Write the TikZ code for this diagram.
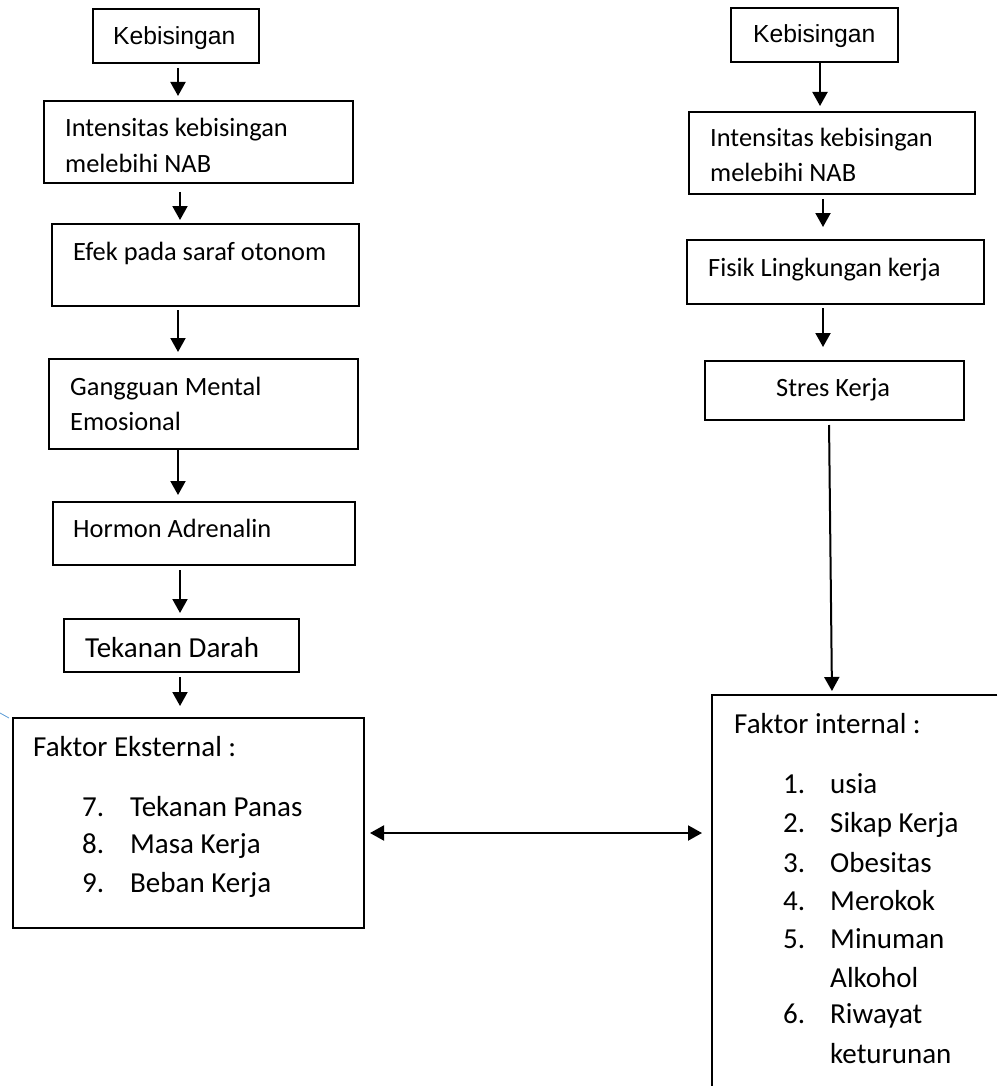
\documentclass[tikz,border=0pt]{standalone}
\usepackage{fontspec}
\setmainfont{Carlito}
\newfontfamily\arialf{Liberation Sans}
\usetikzlibrary{arrows.meta}
\definecolor{lineblue}{RGB}{91,155,213}
\begin{document}
\begin{tikzpicture}[x=1pt,y=-1pt,
  boxst/.style={draw=black,line width=2pt,inner sep=0pt,anchor=north west},
  arr/.style={line width=2pt,-{Triangle[width=15pt,length=14pt]}},
  darr/.style={line width=2pt,{Triangle[width=15pt,length=14pt]}-{Triangle[width=15pt,length=14pt]}},
  txt/.style={anchor=base west,inner sep=0pt,font=\fontsize{26.4}{35}\selectfont},
  btxt/.style={anchor=base west,inner sep=0pt,font=\fontsize{29}{38}\selectfont},
  ktxt/.style={anchor=base west,inner sep=0pt,font=\arialf\fontsize{24.7}{30}\selectfont}]
\useasboundingbox (0,0) rectangle (997,1086);

% ---------- left column boxes ----------
\node[boxst,minimum width=166pt,minimum height=54pt] (kL) at (92,8) {};
\node[boxst,minimum width=309pt,minimum height=82pt] (iL) at (43,100) {};
\node[boxst,minimum width=307pt,minimum height=82pt] (eL) at (51,223) {};
\node[boxst,minimum width=309pt,minimum height=90pt] (gL) at (48,358) {};
\node[boxst,minimum width=302pt,minimum height=63pt] (hL) at (52,501) {};
\node[boxst,minimum width=235pt,minimum height=53pt] (tL) at (63,618) {};
\node[boxst,minimum width=351pt,minimum height=210pt] (fE) at (12,717) {};

% ---------- left column texts ----------
\node[ktxt] (tkL) at (113,45) {Kebisingan};
\node[txt] (ti1) at (65,137) {Intensitas kebisingan};
\node[txt] (ti2) at (65,172) {melebihi NAB};
\node[txt] (te1) at (73,260) {Efek pada saraf otonom};
\node[txt] (tg1) at (70,395) {Gangguan Mental};
\node[txt] (tg2) at (70,430) {Emosional};
\node[txt] (th1) at (73,537) {Hormon Adrenalin};
\node[btxt] (tt1) at (85,657) {Tekanan Darah};
\node[btxt] (tf0) at (33,756) {Faktor Eksternal :};
\node[btxt] (n7) at (82,816) {7.};
\node[btxt] (l7) at (130,816) {Tekanan Panas};
\node[btxt] (n8) at (82,853) {8.};
\node[btxt] (l8) at (130,853) {Masa Kerja};
\node[btxt] (n9) at (82,892) {9.};
\node[btxt] (l9) at (130,892) {Beban Kerja};

% ---------- left column arrows ----------
\coordinate (a1) at (178,0);
\coordinate (a2) at (180,0);
\draw[arr,shorten <=4pt,shorten >=4pt] (kL.south -| a1) -- (iL.north -| a1);
\draw[arr,shorten <=8pt,shorten >=3pt] (iL.south -| a2) -- (eL.north -| a2);
\draw[arr,shorten <=3pt,shorten >=6pt] (eL.south -| a1) -- (gL.north -| a1);
\draw[arr,shorten <=0pt,shorten >=6pt] (gL.south -| a1) -- (hL.north -| a1);
\draw[arr,shorten <=4pt,shorten >=5pt] (hL.south -| a2) -- (tL.north -| a2);
\draw[arr,shorten <=4pt,shorten >=11pt] (tL.south -| a2) -- (fE.north -| a2);

% small blue stroke at left edge
\coordinate (bl1) at (0,713);
\coordinate (bl2) at (9,718);
\draw[lineblue,line width=0.8pt] (bl1) -- (bl2);

% ---------- right column boxes ----------
\node[boxst,minimum width=167pt,minimum height=54pt] (kR) at (730,7) {};
\node[boxst,minimum width=286pt,minimum height=82pt] (iR) at (688,111) {};
\node[boxst,minimum width=297pt,minimum height=64pt] (fR) at (686,239) {};
\node[boxst,minimum width=259pt,minimum height=59pt] (sR) at (704,360) {};
\node[inner sep=0pt,anchor=north west,minimum width=285pt,minimum height=391pt] (fI) at (712,695) {};
\draw[line width=2pt] (fI.north east) -- (fI.north west) -- (fI.south west);

% ---------- right column texts ----------
\node[ktxt] (tkR) at (753,43) {Kebisingan};
\node[txt] (tr1) at (710,147) {Intensitas kebisingan};
\node[txt] (tr2) at (710,182) {melebihi NAB};
\node[txt] (tfr) at (708,276) {Fisik Lingkungan kerja};
\node[txt] (tsr) at (776,396) {Stres Kerja};
\node[btxt] (ti0) at (734,733) {Faktor internal :};
\node[btxt] (m1) at (783,793) {1.};
\node[btxt] (r1) at (830,793) {usia};
\node[btxt] (m2) at (783,832) {2.};
\node[btxt] (r2) at (830,832) {Sikap Kerja};
\node[btxt] (m3) at (783,872) {3.};
\node[btxt] (r3) at (830,872) {Obesitas};
\node[btxt] (m4) at (783,910) {4.};
\node[btxt] (r4) at (830,910) {Merokok};
\node[btxt] (m5) at (783,948) {5.};
\node[btxt] (r5) at (830,948) {Minuman};
\node[btxt] (r5b) at (830,987) {Alkohol};
\node[btxt] (m6) at (783,1023) {6.};
\node[btxt] (r6) at (830,1023) {Riwayat};
\node[btxt] (r6b) at (830,1063) {keturunan};

% ---------- right column arrows ----------
\coordinate (b1) at (820,0);
\coordinate (b2) at (823,0);
\draw[arr,shorten <=0pt,shorten >=5pt] (kR.south -| b1) -- (iR.north -| b1);
\draw[arr,shorten <=4pt,shorten >=12pt] (iR.south -| b2) -- (fR.north -| b2);
\draw[arr,shorten <=3pt,shorten >=13pt] (fR.south -| b2) -- (sR.north -| b2);
\coordinate (c1) at (829,0);
\coordinate (c2) at (832,0);
\draw[arr,shorten <=4pt,shorten >=4pt] (sR.south -| c1) -- (fI.north -| c2);

% ---------- double arrow ----------
\draw[darr,shorten <=5pt,shorten >=10pt] (fE.east |- 0,833) -- (fI.west |- 0,833);
\end{tikzpicture}
\end{document}
